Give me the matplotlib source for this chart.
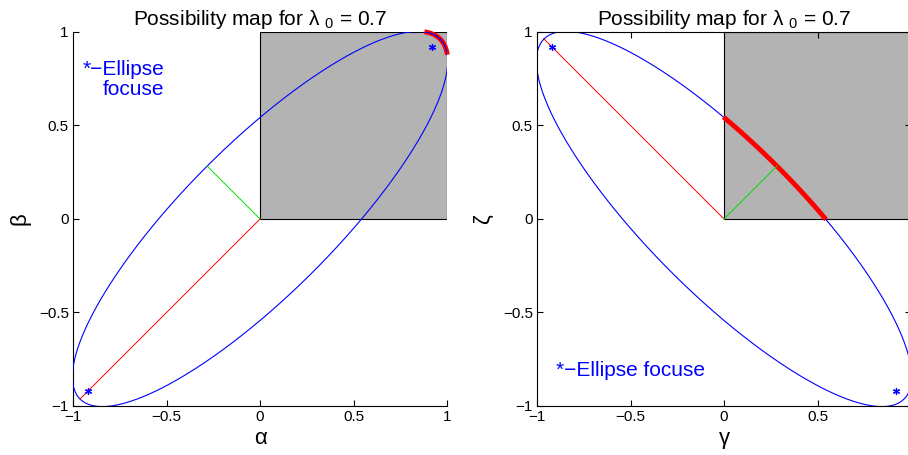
import numpy as np
import matplotlib
matplotlib.use("Agg")
import matplotlib.pyplot as plt
from matplotlib.patches import Rectangle

plt.rcParams['font.family'] = ['Liberation Sans', 'DejaVu Sans']
plt.rcParams['mathtext.fontset'] = 'custom'
plt.rcParams['mathtext.rm'] = 'Liberation Sans'
plt.rcParams['mathtext.it'] = 'Liberation Sans'

# ellipse data
lam0 = 0.7
focus = 0.92          # foci at +-(focus, focus) along the diagonal
b_semi = 0.4          # semi-minor axis
arc_lo = 0.877        # left arc: part of ellipse with x, y above this
ticks = [-1, -0.5, 0, 0.5, 1]
tick_labels = ['\u22121', '\u22120.5', '0', '0.5', '1']

c = focus * np.sqrt(2)
a_semi = np.sqrt(c**2 + b_semi**2)
t = np.linspace(0, 2 * np.pi, 721)

def ellipse(u, v):
    u = np.array(u) / np.linalg.norm(u)
    v = np.array(v) / np.linalg.norm(v)
    x = a_semi * np.cos(t) * u[0] + b_semi * np.sin(t) * v[0]
    y = a_semi * np.cos(t) * u[1] + b_semi * np.sin(t) * v[1]
    return x, y

def style(ax, xl, yl):
    ax.set_xlim(-1, 1)
    ax.set_ylim(-1, 1)
    ax.set_xticks(ticks)
    ax.set_xticklabels(tick_labels)
    ax.set_yticks(ticks)
    ax.set_yticklabels(tick_labels)
    ax.tick_params(direction='in', labelsize=11, length=4, top=True, right=True, pad=3)
    ax.set_xlabel(xl, fontsize=16, labelpad=3)
    ax.set_ylabel(yl, fontsize=16, labelpad=6)
    ax.set_title(r'Possibility map for $\mathregular{\lambda\ _{0}}$ = %.1f' % lam0,
                 fontsize=15, pad=5)

fig = plt.figure(figsize=(9.08, 4.55), dpi=100)

# left: alpha / beta
ax1 = fig.add_axes([0.0804, 0.1077, 0.412, 0.822])
x, y = ellipse((1, 1), (-1, 1))
m = (x >= arc_lo) & (y >= arc_lo)
order = np.argsort(np.arctan2(y[m] - 0.5, x[m] - 0.5))
ax1.add_patch(Rectangle((0, 0), 1, 1, facecolor='#b3b3b3', edgecolor='black', lw=0.8, zorder=1))
ax1.plot(x[m][order], y[m][order], color='red', lw=3.5, zorder=2, clip_on=False,
         solid_capstyle='butt')
ax1.plot(x, y, color='blue', lw=0.8, zorder=3)
ax1.plot([0, -a_semi / np.sqrt(2)], [0, -a_semi / np.sqrt(2)], color='red', lw=0.7, zorder=3)
ax1.plot([0, -b_semi / np.sqrt(2)], [0, b_semi / np.sqrt(2)], color='#00dd00', lw=0.7, zorder=3)
ax1.plot([-focus, focus], [-focus, focus], ls='none', marker=(6, 2, 0), ms=5,
         mew=0.9, color='blue', zorder=4)
ax1.text(-0.95, 0.85, '*\u2212Ellipse\nfocuse', color='blue', fontsize=15,
         va='top', ha='left', multialignment='right', linespacing=1.05)
style(ax1, '\u03b1', '\u03b2')
ax1.spines['top'].set_visible(False)
ax1.spines['right'].set_visible(False)
ax1.tick_params(top=False, right=False)

# right: gamma / zeta
ax2 = fig.add_axes([0.5914, 0.1077, 0.412, 0.822])
x, y = ellipse((-1, 1), (1, 1))
m = (x >= 0) & (y >= 0)
xs, ys = x[m], y[m]
order = np.argsort(xs)
ax2.add_patch(Rectangle((0, 0), 1, 1, facecolor='#b3b3b3', edgecolor='black', lw=0.8, zorder=1))
ax2.plot(x, y, color='blue', lw=0.8, zorder=2)
ax2.plot(xs[order], ys[order], color='red', lw=3.5, zorder=3)
ax2.plot([0, -a_semi / np.sqrt(2)], [0, a_semi / np.sqrt(2)], color='red', lw=0.7, zorder=3)
ax2.plot([0, b_semi / np.sqrt(2)], [0, b_semi / np.sqrt(2)], color='#00dd00', lw=0.7, zorder=3)
ax2.plot([-focus, focus], [focus, -focus], ls='none', marker=(6, 2, 0), ms=5,
         mew=0.9, color='blue', zorder=4)
ax2.text(-0.9, -0.81, '*\u2212Ellipse focuse', color='blue', fontsize=15,
         va='center', ha='left')
style(ax2, '\u03b3', '\u03b6')
# the x = 1 label falls past the picture edge in the original
ax2.set_xticklabels(tick_labels[:-1] + [''])

fig.savefig('out.png', dpi=100)
